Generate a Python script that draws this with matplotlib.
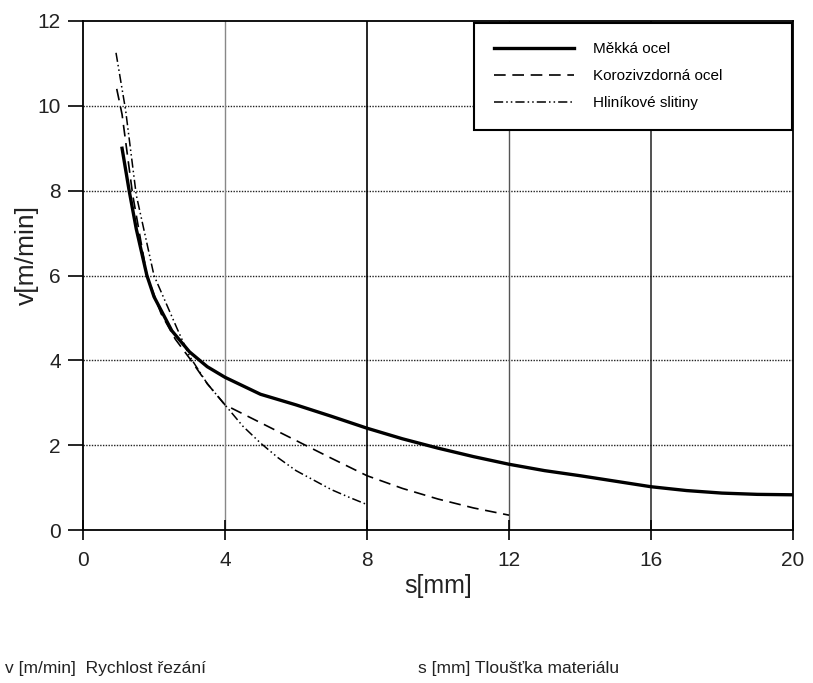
import matplotlib
matplotlib.use("Agg")
import matplotlib.pyplot as plt

plt.rcParams['font.family'] = ['Liberation Sans', 'DejaVu Sans']

# Data
mekka_x = [1.1, 1.3, 1.5, 1.8, 2.0, 2.5, 3.0, 3.5, 4, 5, 6, 7, 8, 9, 10, 11, 12, 13, 14, 15, 16, 17, 18, 19, 20]
mekka_y = [9.0, 8.0, 7.1, 6.0, 5.5, 4.7, 4.2, 3.85, 3.6, 3.2, 2.95, 2.68, 2.4, 2.15, 1.93, 1.73, 1.55, 1.4, 1.28, 1.15, 1.02, 0.93, 0.87, 0.84, 0.83]

koroz_x = [0.95, 1.1, 1.4, 1.8, 2.2, 2.6, 3.0, 3.5, 4, 5, 6, 7, 8, 9, 10, 11, 12]
koroz_y = [10.4, 9.8, 7.9, 6.0, 5.1, 4.5, 4.05, 3.45, 2.95, 2.53, 2.11, 1.69, 1.28, 0.98, 0.73, 0.52, 0.35]

hlinik_x = [0.93, 1.2, 1.5, 2.0, 2.65, 3.0, 3.5, 4, 4.5, 5, 5.5, 6, 6.6, 7, 7.5, 8]
hlinik_y = [11.25, 9.9, 7.9, 6.0, 4.75, 4.1, 3.45, 2.95, 2.45, 2.05, 1.7, 1.4, 1.13, 0.95, 0.77, 0.6]

labels = ["Měkká ocel", "Korozivzdorná ocel", "Hliníkové slitiny"]
x_ticks = [0, 4, 8, 12, 16, 20]
y_ticks = [0, 2, 4, 6, 8, 10, 12]

fig = plt.figure(figsize=(8.13, 6.83), dpi=100)
ax = fig.add_axes([83/813, 1-530/683, 710/813, 509/683])

# grid
for yv in y_ticks[1:-1]:
    ax.axhline(yv, color='#222222', lw=1.0, ls=(0, (1, 1)), zorder=1)
for xv, col, lw in [(4, '#888888', 1.0), (8, 'black', 1.2), (12, '#555555', 1.0), (16, '#222222', 1.1)]:
    ax.axvline(xv, color=col, lw=lw, zorder=1)

ax.plot(mekka_x, mekka_y, color='black', lw=2.4, label=labels[0], zorder=3)
ax.plot(koroz_x, koroz_y, color='black', lw=1.2, ls=(0, (7, 4)), label=labels[1], zorder=3)
ax.plot(hlinik_x, hlinik_y, color='black', lw=1.1, ls=(0, (6, 2, 1, 2, 1, 2)), label=labels[2], zorder=3)

ax.set_xlim(0, 20)
ax.set_ylim(0, 12)
ax.set_xticks(x_ticks)
ax.set_yticks(y_ticks)
ax.tick_params(axis='y', direction='out', length=11, width=1.2, labelsize=15, pad=5, labelcolor='#222222')
ax.tick_params(axis='x', direction='inout', length=14, width=1.2, labelsize=15, pad=8, labelcolor='#222222')
for s in ax.spines.values():
    s.set_linewidth(1.3)

ax.set_xlabel("s[mm]", fontsize=18, color='#222222', labelpad=3)
ax.set_ylabel("v[m/min]", fontsize=19, color='#222222')
ax.yaxis.set_label_coords(-0.062, 0.54)

leg = ax.legend(loc='upper left', bbox_to_anchor=(0.551, 0.79, 0.447, 0.207), mode='expand',
                fontsize=11, handlelength=5.2, handletextpad=1.3, labelspacing=0.85,
                borderpad=1.3, borderaxespad=0, fancybox=False, framealpha=1, edgecolor='black')
leg.get_frame().set_linewidth(1.5)
leg.set_zorder(5)

fig.text(5/813, 1-668/683, "v [m/min]  Rychlost řezání", fontsize=12.5, va='center', ha='left', color='#222222')
fig.text(418/813, 1-668/683, "s [mm] Tloušťka materiálu", fontsize=12.5, va='center', ha='left', color='#222222')

fig.savefig("out.png", dpi=100)
